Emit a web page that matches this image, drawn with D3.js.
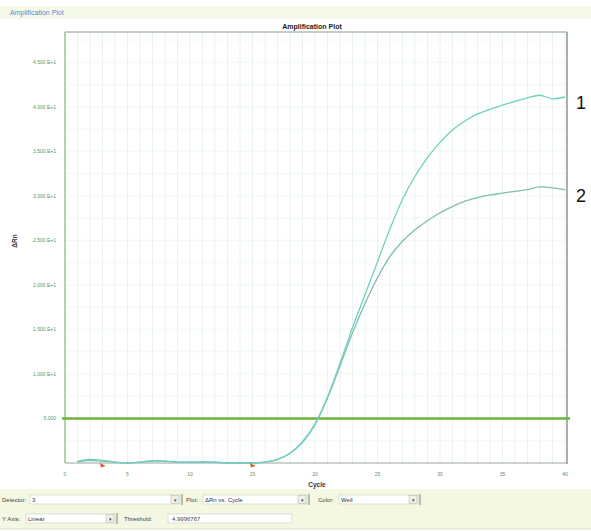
<!DOCTYPE html>
<html>
<head>
<meta charset="utf-8">
<script src="https://cdn.jsdelivr.net/npm/d3@7"></script>
<style>
  body { margin: 0; background: #fff; }
  svg { display: block; font-family: "Liberation Sans", Arial, sans-serif; }
</style>
</head>
<body>
<div id="chart"></div>
<script>
// cycles 1..40
const cycles = d3.range(1, 41);
// well 1 (upper curve) delta Rn
const well1 = [0.2, 0.4, 0.3, 0.1, 0.0, 0.1, 0.25, 0.2, 0.1, 0.1, 0.15, 0.1, 0.0, 0.0, 0.0,
  0.1, 0.4, 1.1, 2.4, 4.4, 7.4, 11.2, 15.2, 18.9, 22.6, 26.3, 29.6, 32.2, 34.3, 36.0,
  37.4, 38.4, 39.2, 39.7, 40.2, 40.6, 41.0, 41.3, 40.9, 41.1];
// well 2 (lower curve)
const well2 = [0.1, 0.3, 0.2, 0.1, 0.0, 0.1, 0.2, 0.2, 0.1, 0.1, 0.1, 0.1, 0.0, 0.0, 0.0,
  0.1, 0.4, 1.1, 2.3, 4.3, 7.3, 10.9, 14.6, 17.9, 20.8, 23.2, 24.9, 26.2, 27.2, 28.1,
  28.8, 29.4, 29.8, 30.1, 30.3, 30.5, 30.7, 31.0, 30.9, 30.7];
const threshold = 4.9996767;
const baselineMarks = [3, 15];
const yTicks = [5, 10, 15, 20, 25, 30, 35, 40, 45];
const xTicks = [0, 5, 10, 15, 20, 25, 30, 35, 40];

const width = 591, height = 531;
const svg = d3.select('#chart').append('svg')
  .attr('width', width)
  .attr('height', height);

const x = d3.scaleLinear().domain([0, 40]).range([65, 565]);
const y = d3.scaleLinear().domain([0, 48.4]).range([463, 32]);

// header strip
svg.append('rect').attr('x', 0).attr('y', 6).attr('width', width).attr('height', 13)
  .attr('fill', '#f5f9e8');
svg.append('text').attr('x', 10).attr('y', 15).text('Amplification Plot')
  .attr('font-size', 7).attr('fill', '#4f8fd0');

// grid
const grid = svg.append('g');
grid.selectAll('line.v').data(d3.range(1, 41)).enter().append('line')
  .attr('x1', d => x(d)).attr('x2', d => x(d))
  .attr('y1', y(48.4)).attr('y2', y(0))
  .attr('stroke', '#e3f1ee').attr('stroke-width', 0.8);
grid.selectAll('line.h').data(d3.range(2.5, 48, 2.5)).enter().append('line')
  .attr('x1', x(0)).attr('x2', 567)
  .attr('y1', d => y(d)).attr('y2', d => y(d))
  .attr('stroke', '#eef6f2').attr('stroke-width', 0.8);

// frame
svg.append('line').attr('x1', x(0)).attr('x2', 567).attr('y1', 32).attr('y2', 32)
  .attr('stroke', '#8a9a8a').attr('stroke-width', 1);
svg.append('line').attr('x1', 567).attr('x2', 567).attr('y1', 32).attr('y2', 464)
  .attr('stroke', '#6f7a80').attr('stroke-width', 1.2);
svg.append('line').attr('x1', x(0)).attr('x2', 567).attr('y1', y(0)).attr('y2', y(0))
  .attr('stroke', '#9aa59a').attr('stroke-width', 1);
svg.append('line').attr('x1', x(0)).attr('x2', x(0)).attr('y1', 32).attr('y2', y(0))
  .attr('stroke', '#7dbb6a').attr('stroke-width', 1.2);

// title
svg.append('text').attr('x', 312).attr('y', 29).attr('text-anchor', 'middle')
  .attr('font-size', 7).attr('font-weight', 'bold').attr('fill', '#222')
  .text('Amplification Plot');

// y axis labels
const fmt = v => v < 10 ? v.toFixed(3) : (v / 10).toFixed(3) + ' E+1';
svg.append('g').selectAll('text').data(yTicks).enter().append('text')
  .attr('x', 56).attr('y', d => y(d) + 2)
  .attr('text-anchor', 'end').attr('font-size', 5).attr('fill', '#4f9a5c')
  .text(fmt);

// x axis labels
svg.append('g').selectAll('text').data(xTicks).enter().append('text')
  .attr('x', d => x(d)).attr('y', 476)
  .attr('text-anchor', 'middle').attr('font-size', 5).attr('fill', '#6a8a6a')
  .text(d => d);

svg.append('text').attr('x', 317).attr('y', 487).attr('text-anchor', 'middle')
  .attr('font-size', 6.5).attr('font-weight', 'bold').attr('fill', '#333').text('Cycle');
svg.append('text').attr('transform', 'translate(17,241) rotate(-90)')
  .attr('text-anchor', 'middle').attr('font-size', 6.5).attr('font-weight', 'bold')
  .attr('fill', '#333').text('ΔRn');

// threshold
svg.append('line').attr('x1', 62).attr('x2', 570)
  .attr('y1', y(threshold)).attr('y2', y(threshold))
  .attr('stroke', '#6cb33f').attr('stroke-width', 2.6);

// curves
const line = d3.line().x((d, i) => x(cycles[i])).y(d => y(d)).curve(d3.curveMonotoneX);
svg.append('path').datum(well2).attr('d', line)
  .attr('fill', 'none').attr('stroke', '#7fbcb2').attr('stroke-width', 1.3);
svg.append('path').datum(well1).attr('d', line)
  .attr('fill', 'none').attr('stroke', '#6fd0c0').attr('stroke-width', 1.3);

// baseline markers
svg.append('g').selectAll('path').data(baselineMarks).enter().append('path')
  .attr('d', d => `M${x(d) - 2.5},${y(0)} L${x(d) + 3},${y(0) + 3} L${x(d) - 1.5},${y(0) + 4.5} Z`)
  .attr('fill', '#d9552a');

// well labels
svg.append('text').attr('x', 576).attr('y', 109).attr('font-size', 18)
  .attr('font-family', 'Liberation Sans, sans-serif').attr('fill', '#111').text('1');
svg.append('text').attr('x', 576).attr('y', 202).attr('font-size', 18)
  .attr('font-family', 'Liberation Sans, sans-serif').attr('fill', '#111').text('2');

// control panel
const panel = svg.append('g');
panel.append('rect').attr('x', 0).attr('y', 489).attr('width', width).attr('height', 40)
  .attr('fill', '#f4f8e2');
panel.append('line').attr('x1', 0).attr('x2', width).attr('y1', 529).attr('y2', 529)
  .attr('stroke', '#d8dcc8');

function dropdown(x0, y0, w, label) {
  panel.append('rect').attr('x', x0).attr('y', y0).attr('width', w).attr('height', 9)
    .attr('fill', '#fff').attr('stroke', '#c8ccc0').attr('stroke-width', 0.6);
  panel.append('text').attr('x', x0 + 2).attr('y', y0 + 7).attr('font-size', 6)
    .attr('fill', '#333').text(label);
  panel.append('rect').attr('x', x0 + w - 9).attr('y', y0 + 0.5).attr('width', 8).attr('height', 8)
    .attr('fill', '#eef0e8').attr('stroke', '#b0b4a8').attr('stroke-width', 0.5);
  panel.append('text').attr('x', x0 + w - 5).attr('y', y0 + 6.5).attr('text-anchor', 'middle')
    .attr('font-size', 5).attr('fill', '#444').text('▾');
  panel.append('line').attr('x1', x0 + w + 2).attr('x2', x0 + w + 2)
    .attr('y1', y0 - 1).attr('y2', y0 + 10).attr('stroke', '#666').attr('stroke-width', 0.8);
}
function label(x0, y0, t) {
  panel.append('text').attr('x', x0).attr('y', y0).attr('font-size', 6)
    .attr('fill', '#444').text(t);
}
label(2, 502, 'Detector:');
dropdown(30, 495, 150, '3');
label(186, 502, 'Plot:');
dropdown(203, 495, 104, 'ΔRn vs. Cycle');
label(318, 502, 'Color:');
dropdown(339, 495, 79, 'Well');
label(2, 521, 'Y Axis:');
dropdown(26, 514, 89, 'Linear');
label(124, 521, 'Threshold:');
panel.append('rect').attr('x', 168).attr('y', 514).attr('width', 124).attr('height', 9)
  .attr('fill', '#fff').attr('stroke', '#c8ccc0').attr('stroke-width', 0.6);
label(172, 521, '4.9996767');
</script>
</body>
</html>
